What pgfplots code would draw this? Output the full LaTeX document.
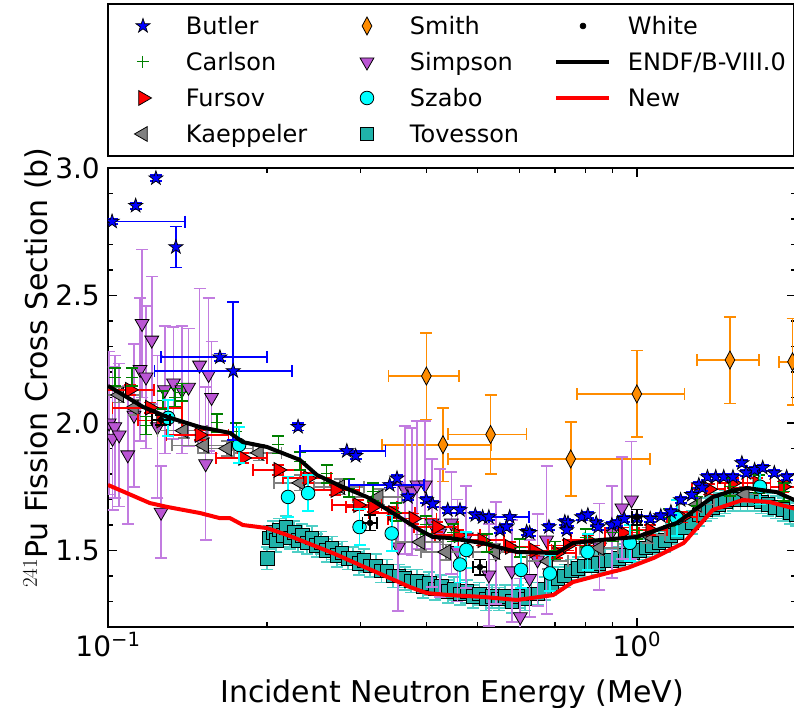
\documentclass[border=0pt]{standalone}
\usepackage{fix-cm}
\usepackage{pgfplots}
\pgfplotsset{compat=1.18}
\usepackage{fontspec}
\setmainfont{DejaVu Sans}
\usetikzlibrary{plotmarks}

\pgfdeclareplotmark{fstar}{%
  \pgfpathmoveto{\pgfpointpolar{90}{\pgfplotmarksize}}%
  \pgfpathlineto{\pgfpointpolar{126}{0.382\pgfplotmarksize}}%
  \pgfpathlineto{\pgfpointpolar{162}{\pgfplotmarksize}}%
  \pgfpathlineto{\pgfpointpolar{198}{0.382\pgfplotmarksize}}%
  \pgfpathlineto{\pgfpointpolar{234}{\pgfplotmarksize}}%
  \pgfpathlineto{\pgfpointpolar{270}{0.382\pgfplotmarksize}}%
  \pgfpathlineto{\pgfpointpolar{306}{\pgfplotmarksize}}%
  \pgfpathlineto{\pgfpointpolar{342}{0.382\pgfplotmarksize}}%
  \pgfpathlineto{\pgfpointpolar{18}{\pgfplotmarksize}}%
  \pgfpathlineto{\pgfpointpolar{54}{0.382\pgfplotmarksize}}%
  \pgfpathclose
  \pgfusepathqfillstroke
}

\definecolor{cButler}{HTML}{0000FF}
\definecolor{cCarlson}{HTML}{008000}
\definecolor{cFursov}{HTML}{FF0000}
\definecolor{cKaep}{HTML}{808080}
\definecolor{cSmith}{HTML}{FF8C00}
\definecolor{cSimpson}{HTML}{BA55D3}
\definecolor{cSimpsonErr}{HTML}{C27CE0}
\definecolor{cSzabo}{HTML}{00FFFF}
\definecolor{cTov}{HTML}{20B2AA}
\definecolor{cTovErr}{HTML}{4FCFC6}

\pgfplotsset{
  butler/.style={only marks, mark=fstar, mark size=7.5pt, mark options={fill=cButler, draw=black, line width=0.7pt}},
  carlson/.style={only marks, mark=+, mark size=6pt, mark options={draw=cCarlson, line width=1pt}},
  fursov/.style={only marks, mark=triangle*, mark size=8.5pt, mark options={rotate=-90, fill=cFursov, draw=black, line width=0.8pt}},
  kaep/.style={only marks, mark=triangle*, mark size=8.5pt, mark options={rotate=90, fill=cKaep, draw=black, line width=0.8pt}},
  smith/.style={only marks, mark=diamond*, mark size=9pt, mark options={xscale=0.72, fill=cSmith, draw=black, line width=0.8pt}},
  simpson/.style={only marks, mark=triangle*, mark size=8pt, mark options={rotate=180, fill=cSimpson, draw=black, line width=0.8pt}},
  szabo/.style={only marks, mark=*, mark size=6.8pt, mark options={fill=cSzabo, draw=black, line width=0.8pt}},
  tov/.style={only marks, mark=square*, mark size=6.8pt, mark options={fill=cTov, draw=black, line width=0.8pt}},
  white/.style={only marks, mark=*, mark size=3pt, mark options={fill=black, draw=black, line width=0.5pt}},
  endf/.style={black, line width=4pt, line join=round},
  new/.style={red, line width=4pt, line join=round},
  yerr/.style={error bars/y dir=both, error bars/y explicit,
    error bars/error bar style={color=#1, line width=1.7pt},
    error bars/error mark options={rotate=90, mark size=6pt, line width=1.7pt, color=#1}},
  xyerr/.style={error bars/x dir=both, error bars/x explicit, error bars/y dir=both, error bars/y explicit,
    error bars/error bar style={color=#1, line width=1.7pt},
    error bars/error mark options={rotate=90, mark size=6pt, line width=1.7pt, color=#1}},
  marklegend/.style={legend image code/.code={\path[draw=none, fill=none] (0pt,-1pt) rectangle (53pt,1pt);\draw[##1, draw=none] plot coordinates {(26.5pt,0pt)};}},
  linelegend/.style={legend image code/.code={\path[draw=none, fill=none] (0pt,-1pt) rectangle (53pt,1pt);\draw[##1] (0pt,0pt) -- (53pt,0pt);}},
}

\begin{document}
\begin{tikzpicture}
\begin{axis}[
  name=ax,
  at={(0,0)}, anchor=south west,
  scale only axis,
  width=688pt, height=459pt,
  clip marker paths=true,
  xmode=log,
  xmin=0.1, xmax=2.0,
  ymin=1.2, ymax=3.0,
  xtick={0.1,1},
  xticklabels={10\textsuperscript{−1}, 10\textsuperscript{0}},
  minor xtick={0.2,0.3,0.4,0.5,0.6,0.7,0.8,0.9,2},
  ytick={1.5,2.0,2.5,3.0},
  yticklabels={1.5,2.0,2.5,3.0},
  minor ytick={1.2,1.3,1.4,1.6,1.7,1.8,1.9,2.1,2.2,2.3,2.4,2.6,2.7,2.8,2.9},
  major tick length=9pt, minor tick length=5pt,
  tick style={line width=1.5pt, black},
  axis line style={line width=2pt},
  xticklabel style={font=\fontsize{28}{34}\selectfont, inner sep=0pt, yshift=-5pt},
  yticklabel style={font=\fontsize{28}{34}\selectfont, inner sep=0pt, xshift=-8pt},
  xlabel={Incident Neutron Energy (MeV)},
  ylabel={$^{241}$Pu Fission Cross Section (b)},
  xlabel style={font=\fontsize{30}{36}\selectfont, at={(axis description cs:0.5,-0.1634)}, anchor=base, inner sep=0pt},
  ylabel style={font=\fontsize{30}{36}\selectfont, at={(axis description cs:-0.0814,0.565)}, anchor=south, inner sep=0pt},
  legend columns=3,
  legend cell align=left,
  legend style={
    at={(rel axis cs:0,1)}, anchor=south west, xshift=-1pt, yshift=11pt,
    draw=black, line width=2pt, fill=white,
    inner xsep=8.5pt, inner ysep=10.3pt,
    font=\fontsize{24}{28}\selectfont,
    row sep=12.6pt, column sep=0pt,
    nodes={inner sep=0pt, text height=20.4pt, text depth=3pt, anchor=west},
    /tikz/every odd column/.style={column sep=16.5pt},
    /tikz/every even column/.style={column sep=0pt},
  },
]

% Tovesson
\addplot[forget plot, tov, yerr=cTovErr] coordinates {
(0.200,1.47) +- (0,0.045) (0.202,1.55) +- (0,0.045) (0.205,1.57) +- (0,0.045) (0.208,1.54) +- (0,0.045)
(0.211,1.58) +- (0,0.045) (0.214,1.56) +- (0,0.045) (0.217,1.59) +- (0,0.045) (0.221,1.55) +- (0,0.045)
(0.225,1.57) +- (0,0.045) (0.229,1.54) +- (0,0.045) (0.233,1.56) +- (0,0.045) (0.238,1.53) +- (0,0.045)
(0.243,1.55) +- (0,0.045) (0.248,1.52) +- (0,0.045) (0.253,1.53) +- (0,0.045) (0.259,1.50) +- (0,0.045)
(0.265,1.51) +- (0,0.045) (0.271,1.48) +- (0,0.045) (0.277,1.49) +- (0,0.045) (0.284,1.47) +- (0,0.045)
(0.291,1.47) +- (0,0.045) (0.298,1.45) +- (0,0.045) (0.305,1.46) +- (0,0.045) (0.313,1.44) +- (0,0.045)
(0.321,1.44) +- (0,0.045) (0.329,1.42) +- (0,0.045) (0.337,1.42) +- (0,0.045) (0.346,1.40) +- (0,0.045)
(0.355,1.40) +- (0,0.045) (0.364,1.39) +- (0,0.045) (0.374,1.38) +- (0,0.045) (0.384,1.38) +- (0,0.045)
(0.394,1.36) +- (0,0.045) (0.405,1.37) +- (0,0.045) (0.416,1.35) +- (0,0.045) (0.427,1.36) +- (0,0.045)
(0.439,1.34) +- (0,0.045) (0.451,1.35) +- (0,0.045) (0.464,1.33) +- (0,0.045) (0.477,1.34) +- (0,0.045)
(0.490,1.32) +- (0,0.045) (0.504,1.33) +- (0,0.045) (0.518,1.31) +- (0,0.045) (0.533,1.32) +- (0,0.045)
(0.548,1.31) +- (0,0.045) (0.564,1.32) +- (0,0.045) (0.580,1.30) +- (0,0.045) (0.597,1.32) +- (0,0.045)
(0.614,1.31) +- (0,0.045) (0.632,1.33) +- (0,0.045) (0.650,1.33) +- (0,0.045) (0.669,1.35) +- (0,0.045)
(0.689,1.37) +- (0,0.045) (0.709,1.39) +- (0,0.045) (0.730,1.40) +- (0,0.045) (0.752,1.42) +- (0,0.045)
(0.774,1.43) +- (0,0.045) (0.797,1.44) +- (0,0.045) (0.821,1.44) +- (0,0.045) (0.845,1.45) +- (0,0.045)
(0.870,1.46) +- (0,0.045) (0.896,1.46) +- (0,0.045) (0.923,1.47) +- (0,0.045) (0.951,1.48) +- (0,0.045)
(0.980,1.49) +- (0,0.045) (1.01,1.50) +- (0,0.045) (1.04,1.51) +- (0,0.045) (1.07,1.52) +- (0,0.045)
(1.10,1.53) +- (0,0.045) (1.13,1.54) +- (0,0.045) (1.16,1.56) +- (0,0.045) (1.19,1.57) +- (0,0.045)
(1.23,1.59) +- (0,0.045) (1.27,1.61) +- (0,0.045) (1.31,1.64) +- (0,0.045) (1.35,1.66) +- (0,0.045)
(1.39,1.67) +- (0,0.045) (1.43,1.68) +- (0,0.045) (1.47,1.69) +- (0,0.045) (1.52,1.70) +- (0,0.045)
(1.57,1.70) +- (0,0.045) (1.62,1.70) +- (0,0.045) (1.67,1.70) +- (0,0.045) (1.72,1.69) +- (0,0.045)
(1.77,1.68) +- (0,0.045) (1.83,1.67) +- (0,0.045) (1.89,1.66) +- (0,0.045) (1.95,1.65) +- (0,0.045)
(2.00,1.64) +- (0,0.045)
};

% Smith
\addplot[forget plot, smith, xyerr=cSmith] coordinates {
(0.400,2.184) +- (0.061,0.17)
(0.430,1.915) +- (0.100,0.145)
(0.529,1.955) +- (0.090,0.155)
(0.750,1.859) +- (0.310,0.145)
(1.000,2.114) +- (0.230,0.17)
(1.500,2.247) +- (0.200,0.17)
(1.970,2.240) +- (0.110,0.17)
};

% Simpson
\addplot[forget plot, simpson, yerr=cSimpsonErr] coordinates {
(0.1005,2.00) +- (0,0.28) (0.102,1.94) +- (0,0.28) (0.103,1.985) +- (0,0.28) (0.105,1.953) +- (0,0.28)
(0.109,1.875) +- (0,0.27) (0.112,2.03) +- (0,0.28) (0.115,2.21) +- (0,0.28) (0.116,2.39) +- (0,0.29)
(0.118,2.18) +- (0,0.28) (0.121,2.325) +- (0,0.25) (0.124,1.985) +- (0,0.28) (0.126,1.65) +- (0,0.18)
(0.128,2.13) +- (0,0.25) (0.133,2.157) +- (0,0.22) (0.138,2.13) +- (0,0.25) (0.142,2.14) +- (0,0.23)
(0.149,2.227) +- (0,0.3) (0.153,1.84) +- (0,0.3) (0.155,2.19) +- (0,0.3) (0.157,2.10) +- (0,0.22)
(0.354,1.514) +- (0,0.25) (0.365,1.737) +- (0,0.25) (0.376,1.73) +- (0,0.25) (0.384,1.757) +- (0,0.25)
(0.398,1.757) +- (0,0.25) (0.410,1.608) +- (0,0.25) (0.424,1.569) +- (0,0.25) (0.446,1.608) +- (0,0.2)
(0.458,1.50) +- (0,0.2) (0.476,1.553) +- (0,0.2) (0.525,1.404) +- (0,0.2) (0.541,1.49) +- (0,0.2)
(0.580,1.42) +- (0,0.2) (0.602,1.24) +- (0,0.15) (0.627,1.39) +- (0,0.15) (0.649,1.463) +- (0,0.18)
(0.675,1.541) +- (0,0.29) (0.850,1.514) +- (0,0.17) (0.897,1.573) +- (0,0.18) (0.937,1.667) +- (0,0.2)
(0.977,1.698) +- (0,0.23)
};

% Kaeppeler
\addplot[forget plot, kaep, xyerr=cKaep] coordinates {
(0.105,2.11) +- (0.010,0.03) (0.112,2.06) +- (0.010,0.03) (0.139,1.97) +- (0.015,0.03)
(0.152,1.912) +- (0.020,0.03) (0.168,1.90) +- (0.020,0.03) (0.193,1.883) +- (0.020,0.03)
(0.231,1.765) +- (0.025,0.03) (0.275,1.75) +- (0.030,0.03) (0.325,1.71) +- (0.035,0.03)
(0.390,1.533) +- (0.040,0.03) (0.436,1.494) +- (0.045,0.03) (0.540,1.495) +- (0.050,0.03)
(0.680,1.458) +- (0.060,0.03) (0.850,1.51) +- (0.070,0.03) (1.05,1.56) +- (0.080,0.03)
(1.30,1.68) +- (0.100,0.03) (1.60,1.72) +- (0.100,0.03)
};

% Fursov
\addplot[forget plot, fursov, xyerr=cFursov] coordinates {
(0.110,2.13) +- (0.012,0.02) (0.120,2.06) +- (0.018,0.02) (0.126,2.01) +- (0.012,0.02)
(0.149,1.953) +- (0.020,0.02) (0.180,1.863) +- (0.020,0.02) (0.210,1.816) +- (0.022,0.02)
(0.239,1.784) +- (0.025,0.02) (0.269,1.737) +- (0.030,0.02) (0.297,1.678) +- (0.032,0.02)
(0.317,1.671) +- (0.035,0.02) (0.346,1.647) +- (0.035,0.02) (0.378,1.625) +- (0.040,0.02)
(0.419,1.592) +- (0.040,0.02) (0.460,1.56) +- (0.045,0.02) (0.510,1.54) +- (0.050,0.02)
(0.575,1.514) +- (0.050,0.02) (0.640,1.50) +- (0.050,0.02) (0.707,1.49) +- (0.060,0.02)
(0.740,1.52) +- (0.060,0.02) (0.810,1.54) +- (0.060,0.02) (0.940,1.57) +- (0.070,0.02)
(1.06,1.58) +- (0.080,0.02) (1.22,1.63) +- (0.080,0.02) (1.37,1.74) +- (0.100,0.02)
(1.52,1.765) +- (0.100,0.02) (1.69,1.765) +- (0.100,0.02) (1.89,1.75) +- (0.100,0.02)
};

% Carlson
\addplot[forget plot, carlson, yerr=cCarlson] coordinates {
(0.103,2.18) +- (0,0.035) (0.111,2.18) +- (0,0.035) (0.118,1.99) +- (0,0.035) (0.127,2.09) +- (0,0.035)
(0.134,2.10) +- (0,0.035) (0.138,2.12) +- (0,0.035) (0.161,2.00) +- (0,0.035) (0.175,1.965) +- (0,0.035)
(0.210,1.915) +- (0,0.035) (0.231,1.85) +- (0,0.035) (0.259,1.80) +- (0,0.035) (0.286,1.745) +- (0,0.035)
(0.317,1.73) +- (0,0.035) (0.351,1.65) +- (0,0.035) (0.40,1.60) +- (0,0.035) (0.45,1.57) +- (0,0.035)
(0.52,1.53) +- (0,0.035) (0.60,1.51) +- (0,0.035) (0.70,1.50) +- (0,0.035) (0.80,1.55) +- (0,0.035)
(0.90,1.57) +- (0,0.035) (1.00,1.58) +- (0,0.035) (1.15,1.63) +- (0,0.035) (1.30,1.71) +- (0,0.035)
(1.50,1.75) +- (0,0.035) (1.70,1.76) +- (0,0.035) (1.90,1.73) +- (0,0.035)
};

% Szabo
\addplot[forget plot, szabo, yerr=cSzabo] coordinates {
(0.130,2.02) +- (0,0.07) (0.177,1.914) +- (0,0.07) (0.219,1.71) +- (0,0.08) (0.239,1.725) +- (0,0.07)
(0.299,1.592) +- (0,0.07) (0.344,1.567) +- (0,0.07) (0.463,1.445) +- (0,0.07) (0.476,1.502) +- (0,0.07)
(0.604,1.424) +- (0,0.07) (0.685,1.41) +- (0,0.07) (0.807,1.494) +- (0,0.07) (0.970,1.53) +- (0,0.07)
(1.19,1.627) +- (0,0.07) (1.71,1.75) +- (0,0.07)
};

% Butler (with x errors)
\addplot[forget plot, butler, xyerr=cButler] coordinates {
(0.1018,2.79) +- (0.038,0.01)
(0.1628,2.258) +- (0.037,0.015)
(0.1725,2.204) +- (0.050,0.27)
(0.2829,1.890) +- (0.052,0.01)
(0.341,1.757) +- (0.055,0.01)
(0.575,1.631) +- (0.050,0.01)
};
% Butler (y errors only)
\addplot[forget plot, butler, yerr=cButler] coordinates {
(0.1128,2.852) +- (0,0.012) (0.1232,2.96) +- (0,0.012) (0.1344,2.69) +- (0,0.08)
(0.2288,1.985) +- (0,0.015) (0.294,1.871) +- (0,0.012) (0.352,1.783) +- (0,0.012)
(0.369,1.71) +- (0,0.012) (0.400,1.698) +- (0,0.012) (0.411,1.682) +- (0,0.012)
(0.439,1.659) +- (0,0.012) (0.463,1.659) +- (0,0.012) (0.495,1.639) +- (0,0.012)
(0.511,1.631) +- (0,0.012) (0.525,1.631) +- (0,0.012) (0.551,1.580) +- (0,0.012)
(0.567,1.592) +- (0,0.012) (0.619,1.573) +- (0,0.012) (0.627,1.569) +- (0,0.012)
(0.682,1.592) +- (0,0.012) (0.731,1.612) +- (0,0.012) (0.741,1.608) +- (0,0.012)
(0.737,1.580) +- (0,0.012) (0.787,1.631) +- (0,0.012) (0.808,1.639) +- (0,0.012)
(0.838,1.608) +- (0,0.012) (0.845,1.592) +- (0,0.012) (0.897,1.600) +- (0,0.012)
(0.919,1.608) +- (0,0.012) (0.947,1.624) +- (0,0.012) (1.00,1.627) +- (0,0.012)
(1.06,1.624) +- (0,0.012) (1.11,1.635) +- (0,0.012) (1.16,1.651) +- (0,0.012)
(1.21,1.698) +- (0,0.012) (1.27,1.718) +- (0,0.012) (1.31,1.757) +- (0,0.012)
(1.33,1.745) +- (0,0.012) (1.36,1.788) +- (0,0.012) (1.41,1.788) +- (0,0.012)
(1.46,1.788) +- (0,0.012) (1.52,1.788) +- (0,0.012) (1.58,1.843) +- (0,0.012)
(1.61,1.804) +- (0,0.012) (1.67,1.816) +- (0,0.012) (1.73,1.824) +- (0,0.012)
(1.82,1.804) +- (0,0.012) (1.92,1.788) +- (0,0.012)
};

% White
\addplot[forget plot, white, xyerr=black] coordinates {
(0.126,2.012) +- (0.005,0.02)
(0.313,1.608) +- (0.010,0.03)
(0.505,1.435) +- (0.015,0.03)
(1.000,1.631) +- (0.020,0.03)
};

% ENDF/B-VIII.0
\addplot[forget plot, endf] coordinates {
(0.100,2.145) (0.1009,2.141) (0.1165,2.063) (0.1293,2.024) (0.1492,1.984) (0.1701,1.961)
(0.1799,1.925) (0.1998,1.906) (0.2307,1.855) (0.2484,1.796) (0.2780,1.749) (0.3088,1.710)
(0.3457,1.647) (0.3888,1.580) (0.4114,1.553) (0.4430,1.549) (0.5115,1.529) (0.5932,1.494)
(0.7061,1.490) (0.7567,1.529) (0.8514,1.541) (1.000,1.553) (1.190,1.608) (1.392,1.710)
(1.519,1.735) (1.614,1.745) (1.839,1.729) (2.000,1.695)
};

% New
\addplot[forget plot, new] coordinates {
(0.100,1.757) (0.1200,1.686) (0.1293,1.671) (0.1492,1.647) (0.1627,1.627) (0.1701,1.627)
(0.1799,1.600) (0.1998,1.588) (0.2180,1.561) (0.2307,1.541) (0.2662,1.490) (0.2995,1.443)
(0.3311,1.404) (0.3721,1.357) (0.4005,1.333) (0.4430,1.325) (0.5115,1.318) (0.5932,1.306)
(0.6944,1.325) (0.7567,1.376) (0.8514,1.404) (0.9584,1.431) (1.0767,1.471) (1.2257,1.529)
(1.392,1.659) (1.585,1.698) (1.785,1.690) (2.000,1.663)
};

% Legend (row-wise order for 3 columns)
\addlegendimage{butler, marklegend}\addlegendentry{\makebox[154.5pt][l]{Butler}}
\addlegendimage{smith, marklegend}\addlegendentry{\makebox[144.5pt][l]{Smith}}
\addlegendimage{white, marklegend}\addlegendentry{White}
\addlegendimage{carlson, marklegend}\addlegendentry{\makebox[154.5pt][l]{Carlson}}
\addlegendimage{simpson, marklegend}\addlegendentry{\makebox[144.5pt][l]{Simpson}}
\addlegendimage{endf, linelegend}\addlegendentry{ENDF/B-VIII.0}
\addlegendimage{fursov, marklegend}\addlegendentry{\makebox[154.5pt][l]{Fursov}}
\addlegendimage{szabo, marklegend}\addlegendentry{\makebox[144.5pt][l]{Szabo}}
\addlegendimage{new, linelegend}\addlegendentry{New}
\addlegendimage{kaep, marklegend}\addlegendentry{\makebox[154.5pt][l]{Kaeppeler}}
\addlegendimage{tov, marklegend}\addlegendentry{\makebox[144.5pt][l]{Tovesson}}
\end{axis}
\pgfresetboundingbox
\path[use as bounding box] ([xshift=-108pt,yshift=-81pt]ax.south west) rectangle ([xshift=686pt,yshift=627pt]ax.south west);
\end{tikzpicture}
\end{document}
